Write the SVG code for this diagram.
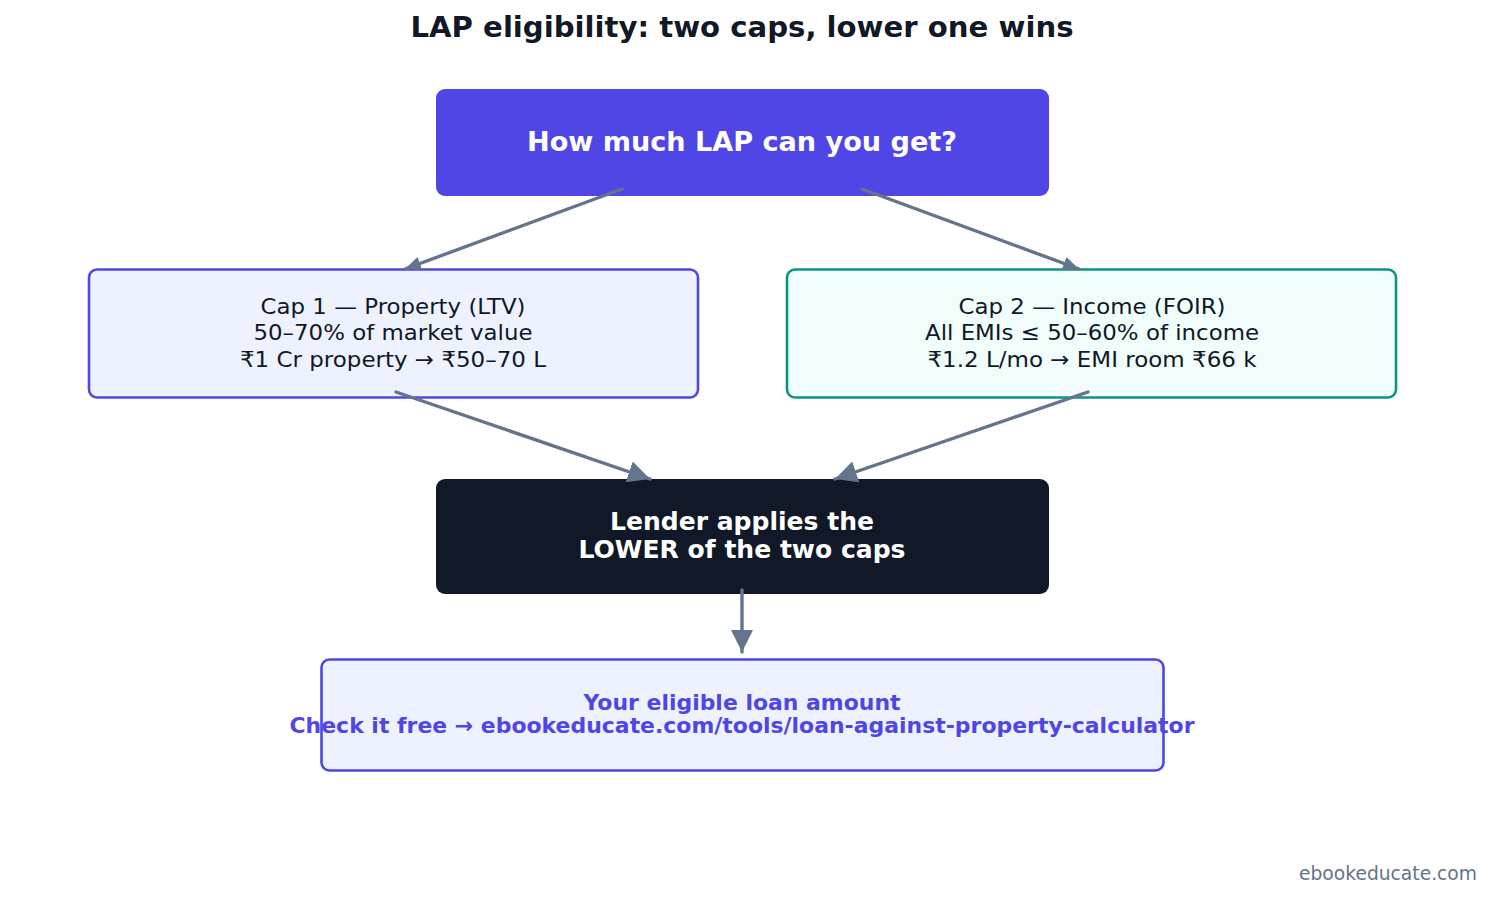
<svg xmlns="http://www.w3.org/2000/svg" width="1492" height="898" viewBox="0 0 1492 898">
<style>
text{font-family:"DejaVu Sans","Liberation Sans",sans-serif;text-anchor:middle}
.b{font-weight:bold}
.con{stroke:#64748b;stroke-width:3.4;fill:none;stroke-linecap:round}
.w{fill:#ffffff}
.ind{fill:#4f46e5}
.t{fill:#111827}
</style>
<defs>
<marker id="ah" markerUnits="userSpaceOnUse" markerWidth="24" markerHeight="24" refX="22" refY="11" orient="auto"><path d="M0,0 L22,11 L0,22 Z" fill="#64748b"/></marker>
<marker id="ahs" markerUnits="userSpaceOnUse" markerWidth="18" markerHeight="18" refX="16" refY="8" orient="auto"><path d="M0,1 L16,8 L0,15 Z" fill="#64748b"/></marker>
</defs>
<rect width="1492" height="898" fill="#ffffff"/>
<text x="742" y="37" class="b t" font-size="28" textLength="663" lengthAdjust="spacingAndGlyphs">LAP eligibility: two caps, lower one wins</text>
<g id="n_top">
<rect x="436" y="89" width="613" height="107" rx="9" fill="#4f46e5"/>
<text x="742" y="151" class="b w" font-size="26" textLength="430" lengthAdjust="spacingAndGlyphs">How much LAP can you get?</text>
</g>
<g id="n_cap1">
<rect x="89" y="269.5" width="609" height="128" rx="8" fill="#eef2ff" stroke="#4f46e5" stroke-width="2.6"/>
<text x="393" y="314" font-size="22" class="t" textLength="265" lengthAdjust="spacingAndGlyphs">Cap 1 — Property (LTV)</text>
<text x="393" y="340" font-size="22" class="t" textLength="279" lengthAdjust="spacingAndGlyphs">50–70% of market value</text>
<text x="393" y="367" font-size="22" class="t" textLength="306" lengthAdjust="spacingAndGlyphs">₹1 Cr property → ₹50–70 L</text>
</g>
<g id="n_cap2">
<rect x="787" y="269.5" width="609" height="128" rx="8" fill="#f0fdfa" stroke="#0d9488" stroke-width="2.6"/>
<text x="1092" y="314" font-size="22" class="t" textLength="267" lengthAdjust="spacingAndGlyphs">Cap 2 — Income (FOIR)</text>
<text x="1092" y="340" font-size="22" class="t" textLength="334" lengthAdjust="spacingAndGlyphs">All EMIs ≤ 50–60% of income</text>
<text x="1092" y="367" font-size="22" class="t" textLength="329" lengthAdjust="spacingAndGlyphs">₹1.2 L/mo → EMI room ₹66 k</text>
</g>
<g id="n_lower">
<rect x="436" y="479" width="613" height="115" rx="9" fill="#111827"/>
<text x="742" y="530" class="b w" font-size="25" textLength="264" lengthAdjust="spacingAndGlyphs">Lender applies the</text>
<text x="742" y="558" class="b w" font-size="25" textLength="327" lengthAdjust="spacingAndGlyphs">LOWER of the two caps</text>
</g>
<g id="n_result">
<rect x="321.5" y="659.5" width="842" height="111" rx="8" fill="#eef2ff" stroke="#4f46e5" stroke-width="2.6"/>
<text x="742" y="710" class="b ind" font-size="22" textLength="317" lengthAdjust="spacingAndGlyphs">Your eligible loan amount</text>
<text x="742" y="733" class="b ind" font-size="22" textLength="905" lengthAdjust="spacingAndGlyphs">Check it free → ebookeducate.com/tools/loan-against-property-calculator</text>
</g>
<g id="connectors">
<line class="con" x1="622" y1="189" x2="405" y2="269" marker-end="url(#ahs)"/>
<line class="con" x1="862" y1="189" x2="1079" y2="269" marker-end="url(#ahs)"/>
<line class="con" x1="396" y1="392" x2="650" y2="479" marker-end="url(#ah)"/>
<line class="con" x1="1088" y1="392" x2="835" y2="479" marker-end="url(#ah)"/>
<line class="con" x1="742" y1="590" x2="742" y2="652" marker-end="url(#ah)"/>
</g>
<text x="1477" y="880" font-size="19" fill="#64748b" style="text-anchor:end" textLength="178" lengthAdjust="spacingAndGlyphs">ebookeducate.com</text>
</svg>
